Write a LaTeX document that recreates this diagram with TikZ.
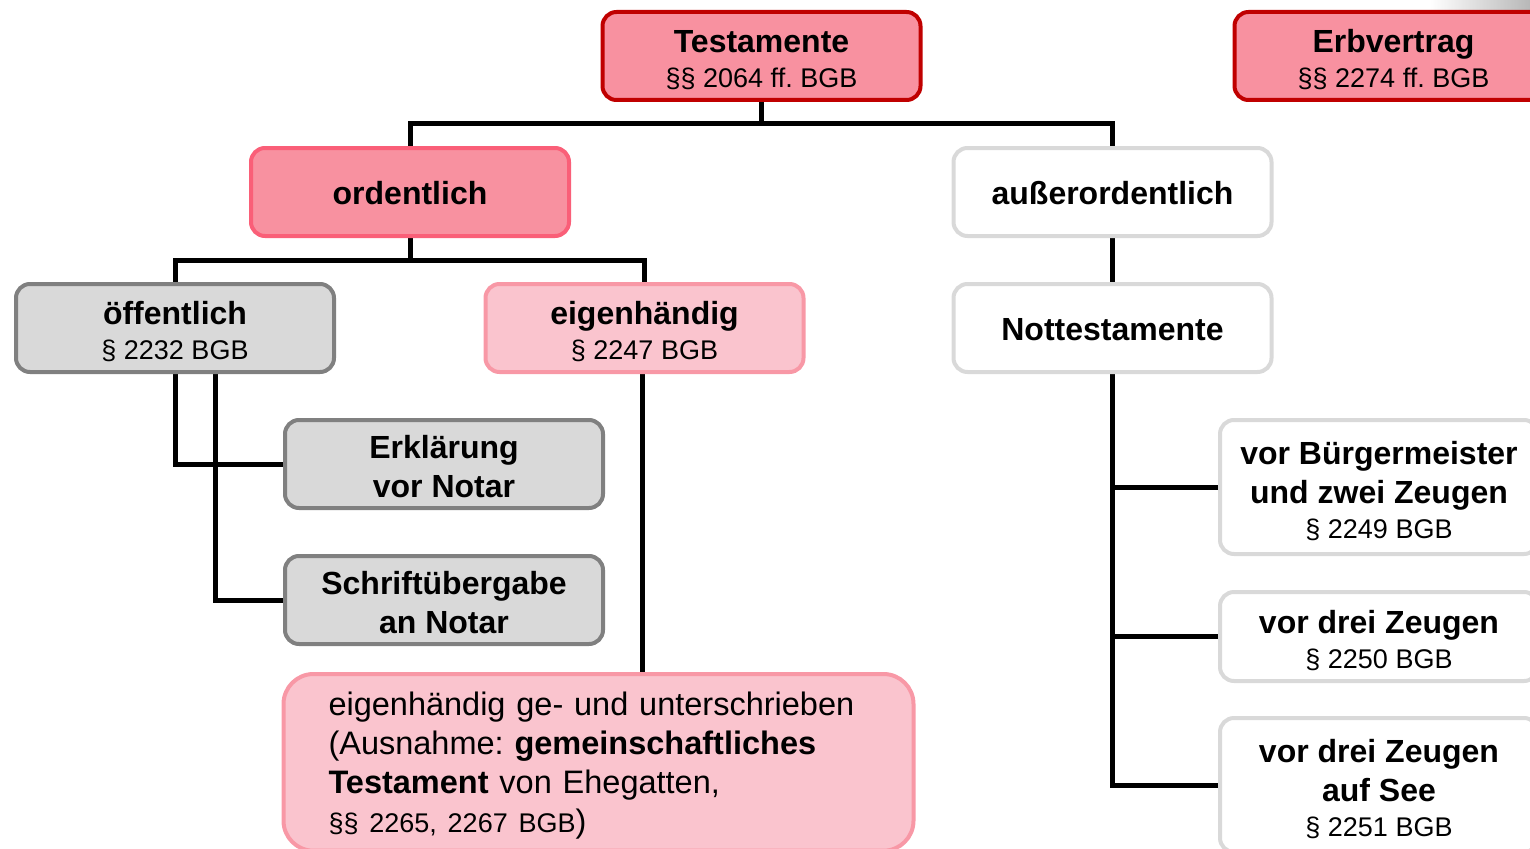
\documentclass[tikz,border=0pt]{standalone}
\usepackage{fontspec}
\setmainfont{Liberation Sans}
\frenchspacing
\usetikzlibrary{backgrounds,calc}
\definecolor{darkred}{HTML}{C00000}
\definecolor{pinkfill}{HTML}{F891A0}
\definecolor{pinkborder}{HTML}{FA5F78}
\definecolor{lightpink}{HTML}{FAC4CE}
\definecolor{lightpinkborder}{HTML}{F898A6}
\definecolor{greyfill}{HTML}{D9D9D9}
\definecolor{greyborder}{HTML}{808080}
\definecolor{paleborder}{HTML}{D9D9D9}
\newcommand\regline[1]{{\fontsize{27}{33}\selectfont\mdseries #1}}
\newcommand\topstrut{\rule{0pt}{31pt}}
\tikzset{
  box/.style={draw, rounded corners=14pt, line width=4pt, inner sep=0pt,
    align=center, font=\fontsize{32}{39}\selectfont\bfseries\frenchspacing,
    minimum width=318pt, minimum height=88pt},
  topbox/.style={box, fill=pinkfill, draw=darkred},
  ordbox/.style={box, fill=pinkfill, draw=pinkborder},
  eigbox/.style={box, fill=lightpink, draw=lightpinkborder},
  greybox/.style={box, fill=greyfill, draw=greyborder},
  whitebox/.style={box, fill=white, draw=paleborder},
  conn/.style={line width=5pt, draw=black}
}
\begin{document}
\begin{tikzpicture}[x=1pt,y=-1pt]
\useasboundingbox (0,0) rectangle (1530,848);
\clip (0,0) rectangle (1530,848);
\shade[left color=white, right color=black!28] (1430,0) rectangle (1530,12);

\node[topbox] (test) at (761.5,56) {\topstrut Testamente\\[-4pt]\regline{§§ 2064 ff. BGB}};
\node[topbox] (erb) at (1393.5,56) {\topstrut Erbvertrag\\[-4pt]\regline{§§ 2274 ff. BGB}};
\node[ordbox] (ord) at (410,192) {\rule{0pt}{26pt}ordentlich};
\node[whitebox] (auss) at (1112.5,192) {\rule{0pt}{26pt}außerordentlich};
\node[greybox] (oeff) at (175,328) {\topstrut öffentlich\\[-4pt]\regline{§ 2232 BGB}};
\node[eigbox] (eig) at (644.5,328) {\topstrut eigenhändig\\[-4pt]\regline{§ 2247 BGB}};
\node[whitebox] (nott) at (1112.5,328) {\rule{0pt}{26pt}Nottestamente};
\node[greybox] (erkl) at (444,464) {\rule{0pt}{28pt}Erklärung\\vor Notar};
\node[greybox] (schrift) at (444,600) {\rule{0pt}{28pt}Schriftübergabe\\an Notar};
\node[whitebox, minimum height=134pt] (bm) at (1379,487) {\topstrut vor Bürgermeister\\und zwei Zeugen\\[-4pt]\regline{§ 2249 BGB}};
\node[whitebox, minimum height=89pt] (drei) at (1379,636.5) {\topstrut vor drei Zeugen\\[-4pt]\regline{§ 2250 BGB}};
\node[whitebox, minimum height=134pt] (see) at (1379,785) {\topstrut vor drei Zeugen\\auf See\\[-4pt]\regline{§ 2251 BGB}};
\node[eigbox, anchor=north, rounded corners=30pt, align=left, text width=540pt,
      inner xsep=45pt, inner ysep=12pt, minimum height=0pt,
      font=\fontsize{32.5}{39}\selectfont\mdseries\frenchspacing] (bot) at (598.5,672)
  {\rule{0pt}{29pt}eigenhändig ge- und unterschrieben\\
   (Ausnahme: \textbf{gemeinschaftliches}\\
   \textbf{Testament} von Ehegatten,\\
   \regline{§§ 2265, 2267 BGB})\\[30pt]};

\begin{pgfonlayer}{background}
\coordinate (j1) at (761.5,124);
\coordinate (j2) at (410,260);
\draw[conn] (test.south) -- (j1);
\draw[conn] (ord.north) |- (j1) -| (auss.north);
\draw[conn] (ord.south) -- (j2);
\draw[conn] (oeff.north) |- (j2) -| (eig.north);
\draw[conn] (auss.south) -- (nott.north);
\draw[conn] (oeff.south) |- (erkl.west);
\draw[conn] ($(oeff.south)+(40,0)$) |- (schrift.west);
\draw[conn] ($(eig.south)+(-2,0)$) -- ($(eig.south |- bot.north)+(-2,0)$);
\draw[conn] (nott.south) |- (bm.west);
\draw[conn] (nott.south) |- (drei.west);
\draw[conn] (nott.south) |- (see.west);
\end{pgfonlayer}
\end{tikzpicture}
\end{document}
